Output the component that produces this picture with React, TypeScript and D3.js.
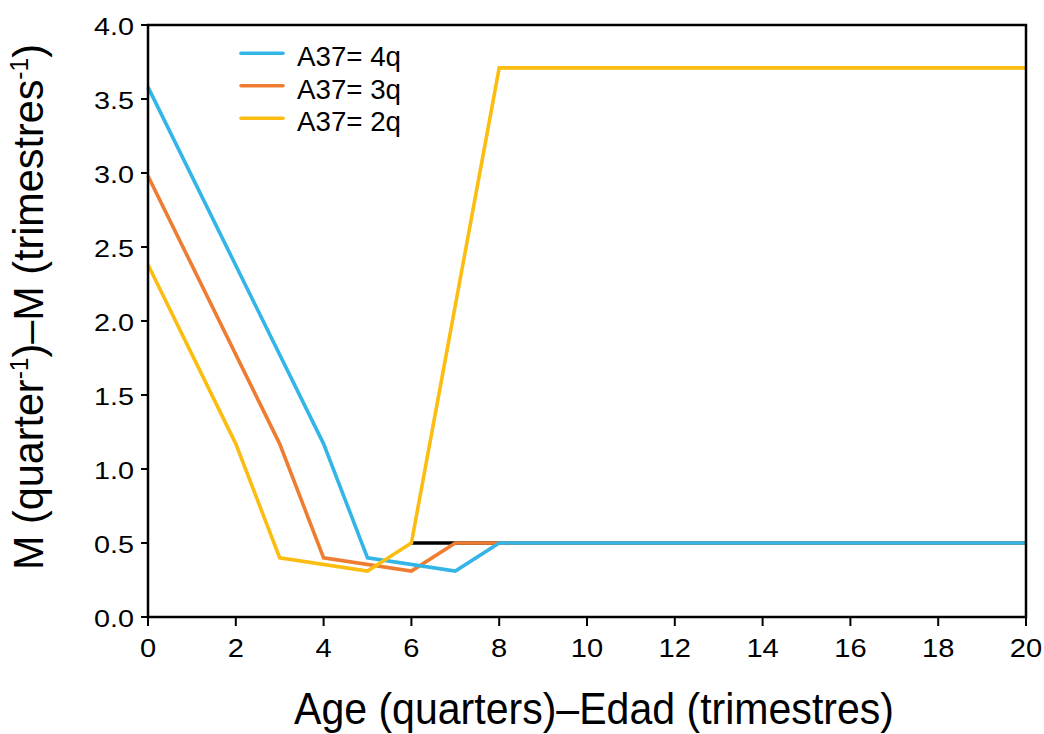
import React from "react";
import * as d3 from "d3";

const xTicks = [0, 2, 4, 6, 8, 10, 12, 14, 16, 18, 20];
const yTicks = [0, 0.5, 1.0, 1.5, 2.0, 2.5, 3.0, 3.5, 4.0];

const blackAge = [6, 20];
const blackM = [0.5, 0.5];
const blueAge = [0, 4, 5, 7, 8, 20];
const blueM = [3.58, 1.17, 0.40, 0.31, 0.50, 0.50];
const orangeAge = [0, 3, 4, 6, 7, 20];
const orangeM = [2.98, 1.17, 0.40, 0.31, 0.50, 0.50];
const yellowAge = [0, 2, 3, 5, 6, 8, 20];
const yellowM = [2.38, 1.17, 0.40, 0.31, 0.50, 3.71, 3.71];

const legendLabels = ["A37= 4q", "A37= 3q", "A37= 2q"];
const legendColors = ["#33b5e8", "#ee7d31", "#fcbd12"];

const W = 1044, H = 734;
const L = 148, R = 1026, T = 25, B = 617;

export default function App() {
  const x = d3.scaleLinear().domain([0, 20]).range([L, R]);
  const y = d3.scaleLinear().domain([0, 4]).range([B, T]);
  const line = d3.line<[number, number]>().x(d => x(d[0])).y(d => y(d[1]));
  const mk = (a: number[], m: number[]) => a.map((v, i) => [v, m[i]] as [number, number]);
  const series = [
    { d: mk(blackAge, blackM), c: "#000000" },
    { d: mk(orangeAge, orangeM), c: legendColors[1] },
    { d: mk(blueAge, blueM), c: legendColors[0] },
    { d: mk(yellowAge, yellowM), c: legendColors[2] },
  ];
  const font = "'Liberation Sans', Arial, sans-serif";
  return (
    <svg width={W} height={H} style={{ position: "absolute", left: 0, top: 0, background: "#fff" }} fontFamily={font}>
      <rect x={0} y={0} width={W} height={H} fill="#fff" />
      {series.map((s, i) => (
        <path key={i} d={line(s.d) || ""} fill="none" stroke={s.c} strokeWidth={3.6} strokeLinejoin="miter" />
      ))}
      <rect x={L} y={T} width={R - L} height={B - T} fill="none" stroke="#000" strokeWidth={2.5} />
      {yTicks.map(t => (
        <g key={"y" + t}>
          <line x1={L - 7} x2={L} y1={y(t)} y2={y(t)} stroke="#000" strokeWidth={2} />
          <g transform={`translate(${L - 14},${y(t)}) scale(1.2,1)`}>
            <text x={0} y={0} dy="0.42em" textAnchor="end" fontSize={24}>{t.toFixed(1)}</text>
          </g>
        </g>
      ))}
      {xTicks.map(t => (
        <g key={"x" + t}>
          <line x1={x(t)} x2={x(t)} y1={B} y2={B + 9} stroke="#000" strokeWidth={2} />
          <g transform={`translate(${x(t)},${657}) scale(1.12,1)`}>
            <text x={0} y={0} textAnchor="middle" fontSize={26}>{t}</text>
          </g>
        </g>
      ))}
      {legendLabels.map((lab, i) => (
        <g key={lab}>
          <line x1={241} x2={283} y1={53.3 + i * 32.5} y2={53.3 + i * 32.5} stroke={legendColors[i]} strokeWidth={3.6} strokeLinecap="round" />
          <text x={297} y={53.3 + i * 32.5 + 12.7} fontSize={27} textLength={104} lengthAdjust="spacingAndGlyphs">{lab}</text>
        </g>
      ))}
      <text x={594} y={724} textAnchor="middle" fontSize={44} textLength={600} lengthAdjust="spacingAndGlyphs">
        Age (quarters)–Edad (trimestres)
      </text>
      <text transform={`translate(43,307) rotate(-90)`} textAnchor="middle" fontSize={42} textLength={526} lengthAdjust="spacingAndGlyphs">
        M (quarter<tspan fontSize={25} dy={-15}>-1</tspan><tspan dy={15}>)–M (trimestres</tspan><tspan fontSize={25} dy={-15}>-1</tspan><tspan dy={15}>)</tspan>
      </text>
    </svg>
  );
}
